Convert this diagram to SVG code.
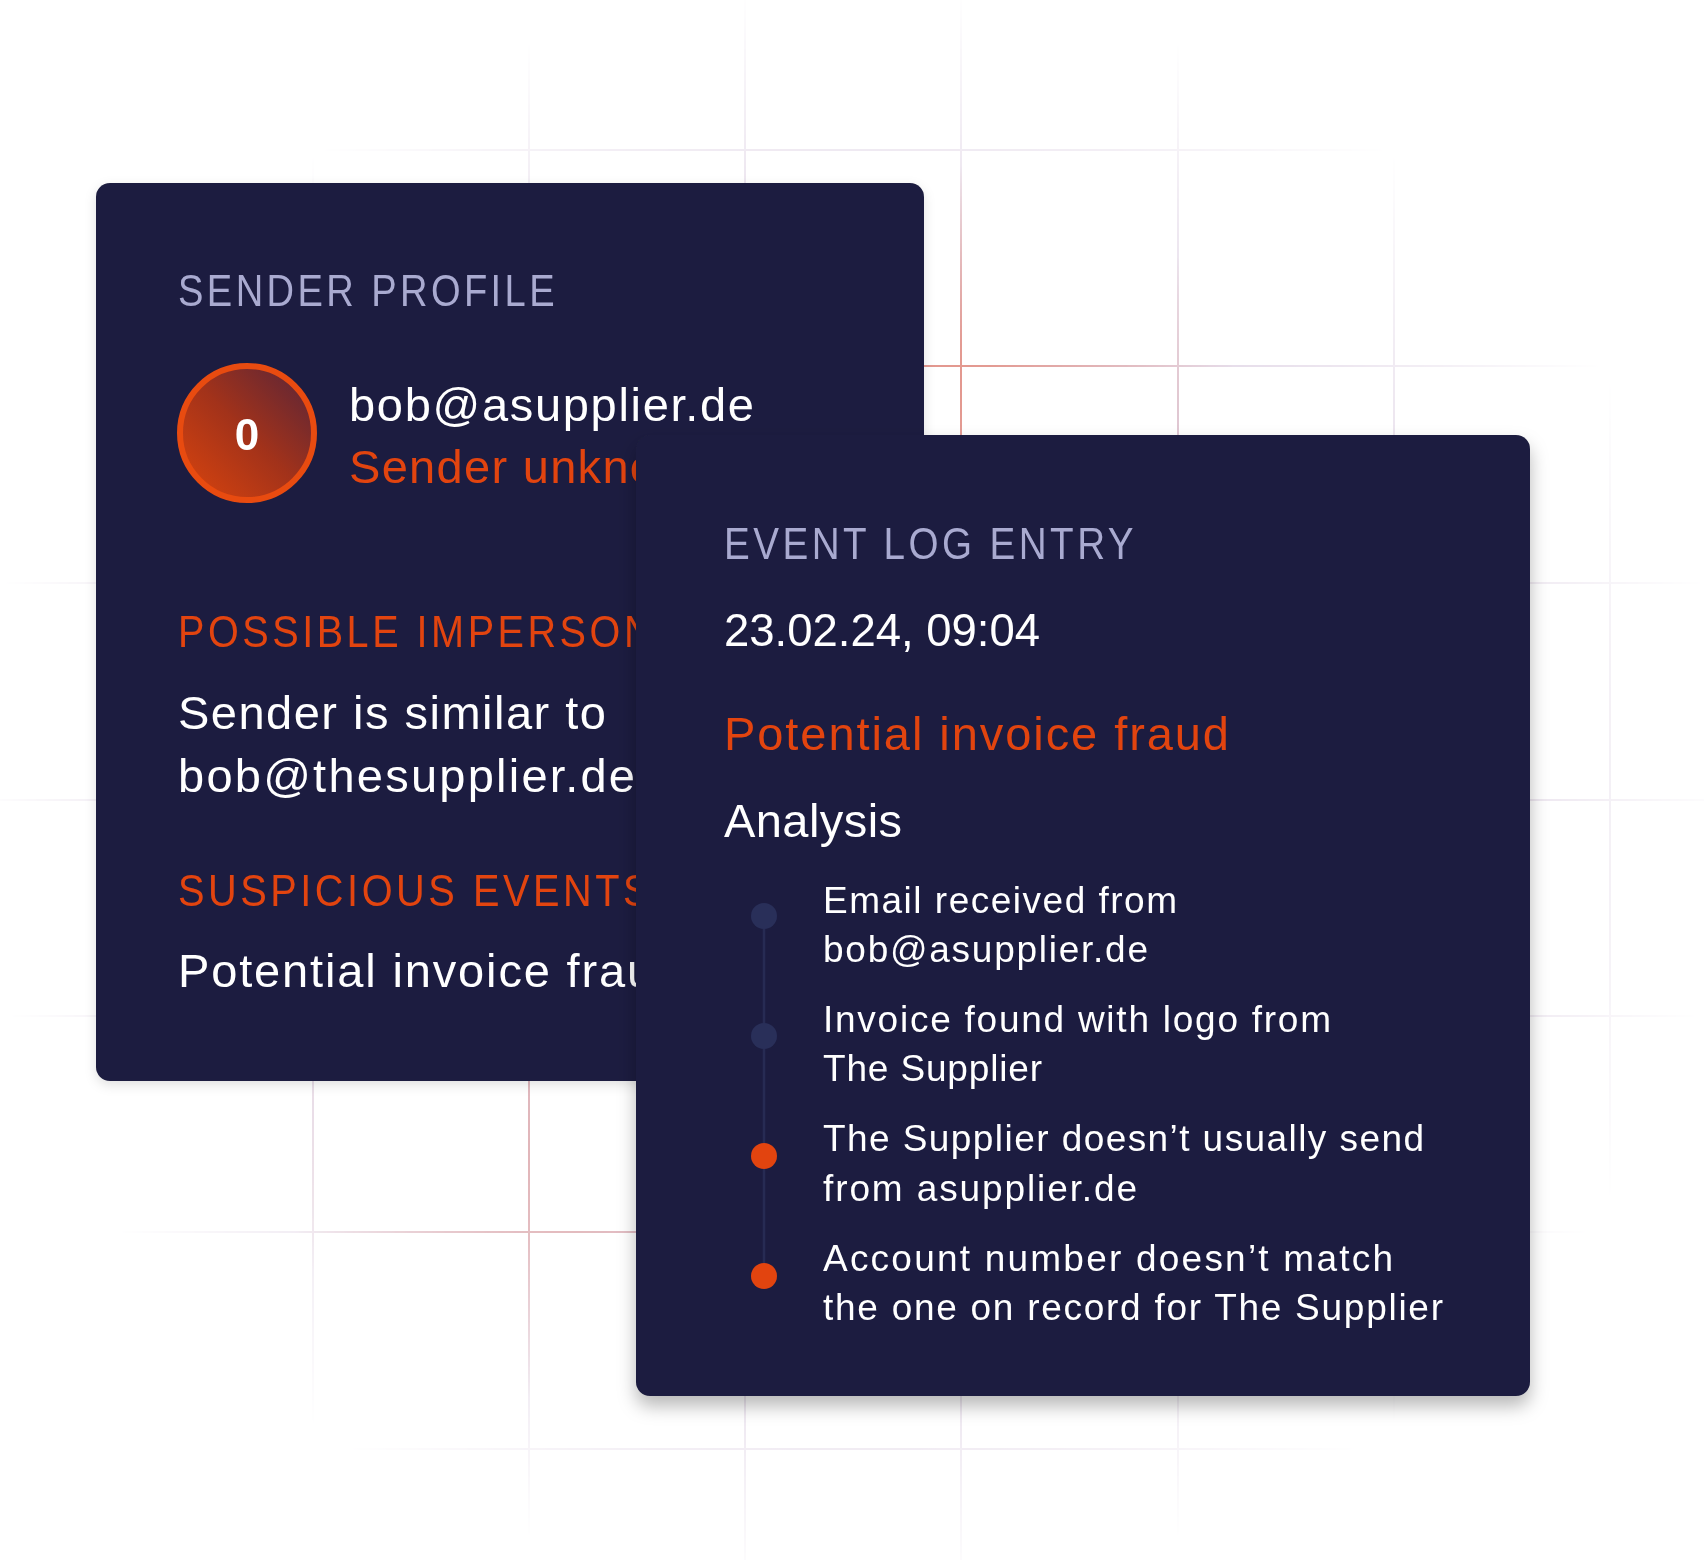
<svg xmlns="http://www.w3.org/2000/svg" width="1704" height="1560" viewBox="0 0 1704 1560">
  <style>
    .card { fill: #1c1d3f; }
    .head { font-family: "Liberation Sans", Arial, sans-serif; font-size: 45px; letter-spacing: 4px; }
    .lav { fill: #a9aad0; }
    .org { fill: #e2440f; }
    .wht { fill: #ffffff; }
    .body { font-family: "Liberation Sans", Arial, sans-serif; font-size: 47px; }
    .small { font-family: "Liberation Sans", Arial, sans-serif; font-size: 37px; fill: #ffffff; }
    .grid line { stroke: #dfd3e4; stroke-width: 2; }
    .hot line { stroke: #e3968c; stroke-width: 2; }
  </style>
  <defs>
    <radialGradient id="fade" gradientUnits="userSpaceOnUse" cx="0" cy="0" r="1" gradientTransform="translate(853 790) scale(880 805)">
      <stop offset="0" stop-color="#fff"/>
      <stop offset="0.58" stop-color="#fff"/>
      <stop offset="1" stop-color="#000"/>
    </radialGradient>
    <mask id="gridMask" maskUnits="userSpaceOnUse" x="0" y="0" width="1704" height="1560">
      <rect x="0" y="0" width="1704" height="1560" fill="url(#fade)"/>
    </mask>
    <radialGradient id="hotA" gradientUnits="userSpaceOnUse" cx="0" cy="0" r="1" gradientTransform="translate(935 385) scale(300 220)">
      <stop offset="0" stop-color="#fff"/>
      <stop offset="0.2" stop-color="#eee"/>
      <stop offset="1" stop-color="#000"/>
    </radialGradient>
    <radialGradient id="hotB" gradientUnits="userSpaceOnUse" cx="0" cy="0" r="1" gradientTransform="translate(560 1160) scale(280 240)">
      <stop offset="0" stop-color="#808080"/>
      <stop offset="0.3" stop-color="#707070"/>
      <stop offset="1" stop-color="#000"/>
    </radialGradient>
    <mask id="hotMask" maskUnits="userSpaceOnUse" x="0" y="0" width="1704" height="1560">
      <rect x="0" y="0" width="1704" height="1560" fill="#000"/>
      <rect x="0" y="0" width="1704" height="1560" fill="url(#hotA)" style="mix-blend-mode:screen"/>
      <rect x="0" y="0" width="1704" height="1560" fill="url(#hotB)" style="mix-blend-mode:screen"/>
    </mask>
    <linearGradient id="badge" x1="0" y1="1" x2="1" y2="0">
      <stop offset="0" stop-color="#dc450d"/>
      <stop offset="0.5" stop-color="#a2321a"/>
      <stop offset="1" stop-color="#55243a"/>
    </linearGradient>
    <filter id="shadow" x="-10%" y="-10%" width="120%" height="125%">
      <feDropShadow dx="0" dy="10" stdDeviation="9" flood-color="#000" flood-opacity="0.28"/>
    </filter>
    <filter id="shadowSoft" x="-10%" y="-10%" width="120%" height="125%">
      <feDropShadow dx="0" dy="4" stdDeviation="6" flood-color="#000" flood-opacity="0.12"/>
    </filter>
  </defs>

  <rect x="0" y="0" width="1704" height="1560" fill="#ffffff"/>

  <g id="grid" class="grid" mask="url(#gridMask)">
    <line x1="313" y1="0" x2="313" y2="1560"/>
    <line x1="529" y1="0" x2="529" y2="1560"/>
    <line x1="745" y1="0" x2="745" y2="1560"/>
    <line x1="961" y1="0" x2="961" y2="1560"/>
    <line x1="1178" y1="0" x2="1178" y2="1560"/>
    <line x1="1394" y1="0" x2="1394" y2="1560"/>
    <line x1="1610" y1="0" x2="1610" y2="1560"/>
    <line x1="0" y1="150" x2="1704" y2="150"/>
    <line x1="0" y1="366" x2="1704" y2="366"/>
    <line x1="0" y1="583" x2="1704" y2="583"/>
    <line x1="0" y1="800" x2="1704" y2="800"/>
    <line x1="0" y1="1016" x2="1704" y2="1016"/>
    <line x1="0" y1="1232" x2="1704" y2="1232"/>
    <line x1="0" y1="1449" x2="1704" y2="1449"/>
  </g>
  <g id="grid-highlight" class="hot" mask="url(#hotMask)">
    <line x1="529" y1="1000" x2="529" y2="1500"/>
    <line x1="961" y1="100" x2="961" y2="700"/>
    <line x1="1178" y1="100" x2="1178" y2="700"/>
    <line x1="300" y1="366" x2="1500" y2="366"/>
    <line x1="200" y1="1232" x2="900" y2="1232"/>
    <line x1="313" y1="1000" x2="313" y2="1500"/>
  </g>

  <g id="sender-profile">
    <rect class="card" x="96" y="183" width="828" height="898" rx="14" filter="url(#shadowSoft)"/>
    <text class="head lav" x="178" y="306" textLength="380" lengthAdjust="spacingAndGlyphs">SENDER PROFILE</text>
    <g id="score-badge">
      <circle cx="247" cy="433" r="67" fill="url(#badge)" stroke="#e84b10" stroke-width="6"/>
      <text x="247" y="450" text-anchor="middle" font-family="Liberation Sans, Arial, sans-serif" font-size="44" font-weight="bold" fill="#ffffff">0</text>
    </g>
    <text class="body wht" x="349" y="421" textLength="405">bob@asupplier.de</text>
    <text class="body org" x="349" y="483" letter-spacing="1.3">Sender unkno</text>
    <text class="head org" x="178" y="647" textLength="478" lengthAdjust="spacingAndGlyphs">POSSIBLE IMPERSON</text>
    <text class="body wht" x="178" y="729" textLength="428">Sender is similar to</text>
    <text class="body wht" x="178" y="792" textLength="457">bob@thesupplier.de</text>
    <text class="head org" x="178" y="906" textLength="475" lengthAdjust="spacingAndGlyphs">SUSPICIOUS EVENTS</text>
    <text class="body wht" x="178" y="987" letter-spacing="1.85">Potential invoice frau</text>
  </g>

  <g id="event-log-entry">
    <rect class="card" x="636" y="435" width="894" height="961" rx="14" filter="url(#shadow)"/>
    <text class="head lav" x="724" y="559" textLength="413" lengthAdjust="spacingAndGlyphs">EVENT LOG ENTRY</text>
    <text class="wht" x="724" y="646" font-family="Liberation Sans, Arial, sans-serif" font-size="46" textLength="316" lengthAdjust="spacingAndGlyphs">23.02.24, 09:04</text>
    <text class="body org" x="724" y="750" textLength="505">Potential invoice fraud</text>
    <text class="body wht" x="724" y="837" textLength="178">Analysis</text>
  </g>

  <g id="connectors">
    <line x1="764" y1="916" x2="764" y2="1276" stroke="#272b53" stroke-width="2.5"/>
  </g>

  <g id="analysis-steps">
    <g id="step-1">
      <circle cx="764" cy="916" r="13" fill="#292f59"/>
      <text class="small" x="823" y="913" textLength="354">Email received from</text>
      <text class="small" x="823" y="962" textLength="325">bob@asupplier.de</text>
    </g>
    <g id="step-2">
      <circle cx="764" cy="1036" r="13" fill="#292f59"/>
      <text class="small" x="823" y="1032" textLength="508">Invoice found with logo from</text>
      <text class="small" x="823" y="1081" textLength="219">The Supplier</text>
    </g>
    <g id="step-3">
      <circle cx="764" cy="1156" r="13" fill="#e2440f"/>
      <text class="small" x="823" y="1151" textLength="601">The Supplier doesn’t usually send</text>
      <text class="small" x="823" y="1201" textLength="314">from asupplier.de</text>
    </g>
    <g id="step-4">
      <circle cx="764" cy="1276" r="13" fill="#e2440f"/>
      <text class="small" x="823" y="1271" textLength="570">Account number doesn’t match</text>
      <text class="small" x="823" y="1320" textLength="620">the one on record for The Supplier</text>
    </g>
  </g>
</svg>
